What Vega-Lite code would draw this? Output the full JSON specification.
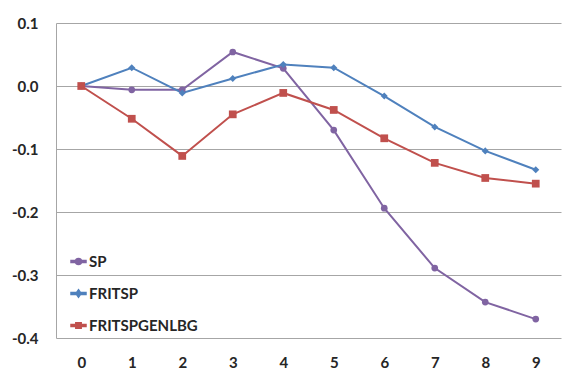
{
  "$schema": "https://vega.github.io/schema/vega-lite/v6.json",
  "width": 505,
  "height": 315,
  "autosize": {"type": "none"},
  "padding": {"left": 56, "top": 23, "right": 6, "bottom": 34},
  "background": "white",
  "config": {
    "view": {"stroke": null},
    "font": "Lato"
  },
  "data": {
    "values": [
      {"t": 0, "series": "SP", "v": 0},
      {"t": 1, "series": "SP", "v": -0.006},
      {"t": 2, "series": "SP", "v": -0.006},
      {"t": 3, "series": "SP", "v": 0.054},
      {"t": 4, "series": "SP", "v": 0.028},
      {"t": 5, "series": "SP", "v": -0.070},
      {"t": 6, "series": "SP", "v": -0.194},
      {"t": 7, "series": "SP", "v": -0.289},
      {"t": 8, "series": "SP", "v": -0.343},
      {"t": 9, "series": "SP", "v": -0.370},
      {"t": 0, "series": "FRITSP", "v": 0},
      {"t": 1, "series": "FRITSP", "v": 0.029},
      {"t": 2, "series": "FRITSP", "v": -0.011},
      {"t": 3, "series": "FRITSP", "v": 0.012},
      {"t": 4, "series": "FRITSP", "v": 0.034},
      {"t": 5, "series": "FRITSP", "v": 0.029},
      {"t": 6, "series": "FRITSP", "v": -0.016},
      {"t": 7, "series": "FRITSP", "v": -0.065},
      {"t": 8, "series": "FRITSP", "v": -0.103},
      {"t": 9, "series": "FRITSP", "v": -0.133},
      {"t": 0, "series": "FRITSPGENLBG", "v": 0},
      {"t": 1, "series": "FRITSPGENLBG", "v": -0.052},
      {"t": 2, "series": "FRITSPGENLBG", "v": -0.111},
      {"t": 3, "series": "FRITSPGENLBG", "v": -0.045},
      {"t": 4, "series": "FRITSPGENLBG", "v": -0.011},
      {"t": 5, "series": "FRITSPGENLBG", "v": -0.038},
      {"t": 6, "series": "FRITSPGENLBG", "v": -0.083},
      {"t": 7, "series": "FRITSPGENLBG", "v": -0.122},
      {"t": 8, "series": "FRITSPGENLBG", "v": -0.146},
      {"t": 9, "series": "FRITSPGENLBG", "v": -0.155}
    ]
  },
  "encoding": {
    "x": {
      "field": "t",
      "type": "ordinal",
      "scale": {"type": "point", "padding": 0.5},
      "axis": {
        "title": null,
        "labelAngle": 0,
        "labelFont": "Lato",
        "labelFontWeight": "bold",
        "labelFontSize": 15,
        "labelColor": "#262626",
        "labelPadding": 17,
        "ticks": false,
        "domain": false,
        "grid": false
      }
    },
    "y": {
      "field": "v",
      "type": "quantitative",
      "scale": {"domain": [-0.4, 0.1], "nice": false, "zero": false},
      "axis": {
        "title": null,
        "values": [-0.4, -0.3, -0.2, -0.1, 0, 0.1],
        "labelExpr": "datum.value < -0.0001 ? '-' + format(-datum.value, '.1f') : format(datum.value, '.1f')",
        "labelFont": "Lato",
        "labelFontWeight": "bold",
        "labelFontSize": 15,
        "labelColor": "#262626",
        "labelPadding": 18,
        "ticks": false,
        "domain": true,
        "domainColor": "#a6a6a6",
        "domainWidth": 1,
        "grid": true,
        "gridColor": "#a6a6a6",
        "gridWidth": 1
      }
    },
    "color": {
      "field": "series",
      "type": "nominal",
      "scale": {
        "domain": ["SP", "FRITSP", "FRITSPGENLBG"],
        "range": ["#8064A2", "#4F81BD", "#C0504D"]
      },
      "legend": {
        "title": null,
        "orient": "none",
        "legendX": 14,
        "legendY": 230,
        "padding": 0,
        "rowPadding": 15,
        "symbolSize": 225,
        "labelFont": "Lato",
        "labelFontWeight": "bold",
        "labelFontSize": 15,
        "labelColor": "#262626",
        "labelOffset": 2
      }
    }
  },
  "layer": [
    {
      "mark": {"type": "line", "strokeWidth": 2}
    },
    {
      "transform": [{"filter": "datum.series === 'SP'"}],
      "mark": {"type": "point", "filled": true, "opacity": 1, "shape": "circle", "size": 45}
    },
    {
      "transform": [{"filter": "datum.series === 'FRITSP'"}],
      "mark": {"type": "point", "filled": true, "opacity": 1, "shape": "diamond", "size": 50}
    },
    {
      "transform": [{"filter": "datum.series === 'FRITSPGENLBG'"}],
      "mark": {"type": "point", "filled": true, "opacity": 1, "shape": "square", "size": 60}
    },
    {
      "transform": [{"filter": "datum.t < 0"}],
      "mark": {"type": "point", "filled": true, "opacity": 1},
      "encoding": {
        "shape": {
          "field": "series",
          "type": "nominal",
          "scale": {
            "domain": ["SP", "FRITSP", "FRITSPGENLBG"],
            "range": [
              "M-1,-0.13H1V0.13H-1ZM-0.4,0A0.4,0.4 0 1,1 0.4,0A0.4,0.4 0 1,1 -0.4,0Z",
              "M-1,-0.13H1V0.13H-1ZM0,-0.5L0.35,0L0,0.5L-0.35,0Z",
              "M-1,-0.13H1V0.13H-1ZM-0.36,-0.36H0.36V0.36H-0.36Z"
            ]
          },
          "legend": null
        }
      }
    }
  ]
}
